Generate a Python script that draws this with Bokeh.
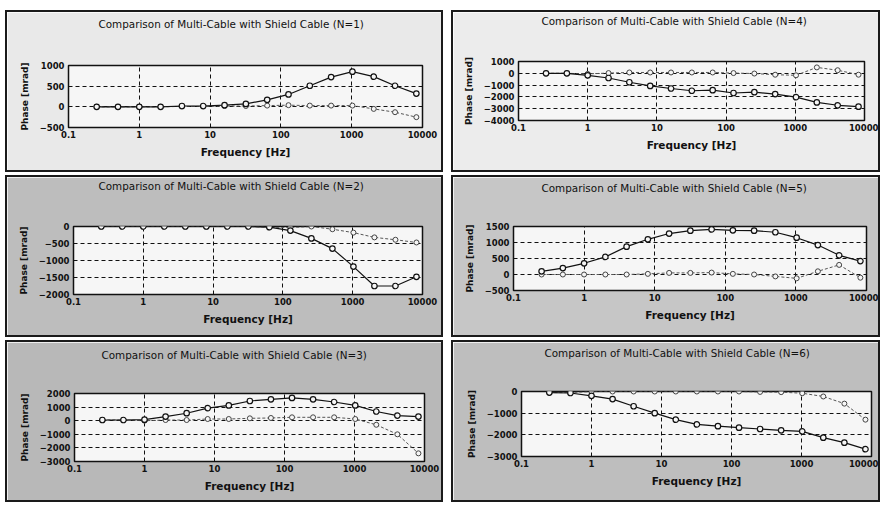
from bokeh.plotting import figure
from bokeh.layouts import column, row, Spacer
from bokeh.models import Range1d, FixedTicker, CustomJSTickFormatter, Title
from bokeh.embed import file_html
from bokeh.resources import INLINE

# ---------------- data ----------------
freq = [0.25, 0.5, 1, 2, 4, 8, 16, 32, 64, 128, 256, 512, 1024, 2048, 4096, 8192]
x_ticks = [0.1, 1, 10, 100, 1000, 10000]

n1_a = [0, 0, 0, 0, 20, 20, 40, 70, 170, 300, 510, 720, 850, 730, 510, 320]
n1_b = [0, 0, 0, 0, 10, 10, 20, 20, 30, 40, 30, 30, 30, -50, -130, -250]

n2_a = [0, 0, 0, 0, 0, 0, 0, 0, -20, -120, -350, -650, -1180, -1750, -1750, -1480]
n2_b = [0, 0, 0, 0, 0, 0, 0, 0, -20, -30, 0, -80, -180, -320, -390, -470]

n3_a = [50, 50, 75, 300, 550, 925, 1125, 1450, 1575, 1675, 1575, 1375, 1125, 675, 375, 300]
n3_b = [50, 50, 0, 50, 50, 125, 125, 175, 200, 250, 250, 250, 125, -300, -1000, -2400]

n4_a = [0, 0, -170, -400, -760, -1070, -1290, -1480, -1430, -1670, -1600, -1760, -2020, -2470, -2710, -2830]
n4_b = [0, 0, -50, 20, 70, 70, 70, 70, 70, 20, -20, -120, -170, 500, 260, -120]

n5_a = [100, 200, 350, 550, 870, 1100, 1280, 1370, 1410, 1380, 1370, 1320, 1150, 920, 600, 420]
n5_b = [0, 0, 0, 0, 0, 20, 50, 50, 60, 20, 0, -60, -120, 100, 300, -100]

n6_a = [-50, -70, -200, -350, -680, -1000, -1300, -1520, -1600, -1670, -1730, -1790, -1840, -2130, -2360, -2660]
n6_b = [-50, -50, 0, 0, 0, 0, 0, 0, 0, 0, -20, -30, -80, -230, -560, -1300]

titles = {
    1: "Comparison of Multi-Cable with Shield Cable (N=1)",
    2: "Comparison of Multi-Cable with Shield Cable (N=2)",
    3: "Comparison of Multi-Cable with Shield Cable (N=3)",
    4: "Comparison of Multi-Cable with Shield Cable (N=4)",
    5: "Comparison of Multi-Cable with Shield Cable (N=5)",
    6: "Comparison of Multi-Cable with Shield Cable (N=6)",
}
y_ticks = {
    1: [-500, 0, 500, 1000],
    2: [-2000, -1500, -1000, -500, 0],
    3: [-3000, -2000, -1000, 0, 1000, 2000],
    4: [-4000, -3000, -2000, -1000, 0, 1000],
    5: [-500, 0, 500, 1000, 1500],
    6: [-3000, -2000, -1000, 0],
}
series = {1: (n1_a, n1_b), 2: (n2_a, n2_b), 3: (n3_a, n3_b),
          4: (n4_a, n4_b), 5: (n5_a, n5_b), 6: (n6_a, n6_b)}

# ---------------- layout / style ----------------
H = 162          # outer panel height incl. border
B = 2            # css border width
layout = {  # outer width, left, right, top, frame height, title offset, title gap, background
    1: (438, 61, 19, 53, 62, 30, 23, "#e9e9e9"),
    4: (429, 65, 14, 49, 59, 23, 22, "#ececec"),
    2: (438, 66, 19, 49, 68, 25, 22, "#bdbdbd"),
    5: (429, 60, 12, 49, 64, 28, 20, "#c6c6c6"),
    3: (438, 67, 17, 51, 68, 27, 20, "#b8b8b8"),
    6: (429, 68, 7, 49, 65, 23, 20, "#bebebe"),
}
FONT = "DejaVu Sans"


def make(n):
    w, left, right, top, fh, toff, tgap, bg = layout[n]
    iw, ih = w - 2 * B, H - 2 * B
    yt = y_ticks[n]
    p = figure(width=iw, height=ih, x_axis_type="log", output_backend="svg",
               toolbar_location=None, x_range=Range1d(0.1, 10000),
               y_range=Range1d(yt[0], yt[-1]), title=None,
               min_border_left=left, min_border_right=right,
               min_border_top=top, min_border_bottom=ih - top - fh,
               background_fill_color="#f6f6f6", border_fill_color=bg,
               outline_line_color="#111111", outline_line_width=1.5)
    # blank spacer title (closest to the frame), then the real title above it
    p.add_layout(Title(text=" ", standoff=tgap, text_font=FONT,
                       text_font_size="9.5px"), "above")
    p.add_layout(Title(text=titles[n], align="left", offset=toff, standoff=0,
                       text_font=FONT, text_font_size="10.4px",
                       text_font_style="normal", text_color="#111111"), "above")

    p.xaxis.ticker = FixedTicker(ticks=x_ticks)
    p.xaxis.formatter = CustomJSTickFormatter(code="return String(tick);")
    p.yaxis.ticker = FixedTicker(ticks=yt)
    p.xaxis.axis_label = "Frequency [Hz]"
    p.yaxis.axis_label = "Phase [mrad]"
    for ax in (p.xaxis, p.yaxis):
        ax.axis_line_color = None
        ax.major_tick_line_color = None
        ax.minor_tick_line_color = None
        ax.major_tick_out = 0
        ax.major_tick_in = 0
        ax.major_label_text_font = FONT
        ax.major_label_text_font_size = "8.5px"
        ax.major_label_text_font_style = "bold"
        ax.major_label_text_color = "#111111"
        ax.axis_label_text_font = FONT
        ax.axis_label_text_font_style = "bold"
        ax.axis_label_text_color = "#111111"
    p.xaxis.major_label_standoff = 3
    p.yaxis.major_label_standoff = 4
    p.xaxis.axis_label_text_font_size = "10.5px"
    p.yaxis.axis_label_text_font_size = "9px"
    p.xaxis.axis_label_standoff = 5
    p.yaxis.axis_label_standoff = 7

    p.xgrid.ticker = FixedTicker(ticks=x_ticks)
    for g in (p.xgrid, p.ygrid):
        g.grid_line_color = "#111111"
        g.grid_line_dash = "4 3"
        g.grid_line_width = 1

    a, b = series[n]
    p.line(freq, b, line_color="#555555", line_width=1, line_dash="3 2")
    p.scatter(freq, b, marker="circle", size=5, fill_color="#f6f6f6",
              line_color="#444444", line_width=1)
    p.line(freq, a, line_color="#111111", line_width=1.2)
    p.scatter(freq, a, marker="circle", size=5.5, fill_color="#f6f6f6",
              line_color="#111111", line_width=1.2)

    return column(p, styles={"border": f"{B}px solid #1a1a1a"})


page = column(
    Spacer(height=10),
    row(Spacer(width=5), make(1), Spacer(width=8), make(4)),
    Spacer(height=3),
    row(Spacer(width=5), make(2), Spacer(width=8), make(5)),
    Spacer(height=3),
    row(Spacer(width=5), make(3), Spacer(width=8), make(6)),
)

open("out.html", "w").write(file_html(page, INLINE))
